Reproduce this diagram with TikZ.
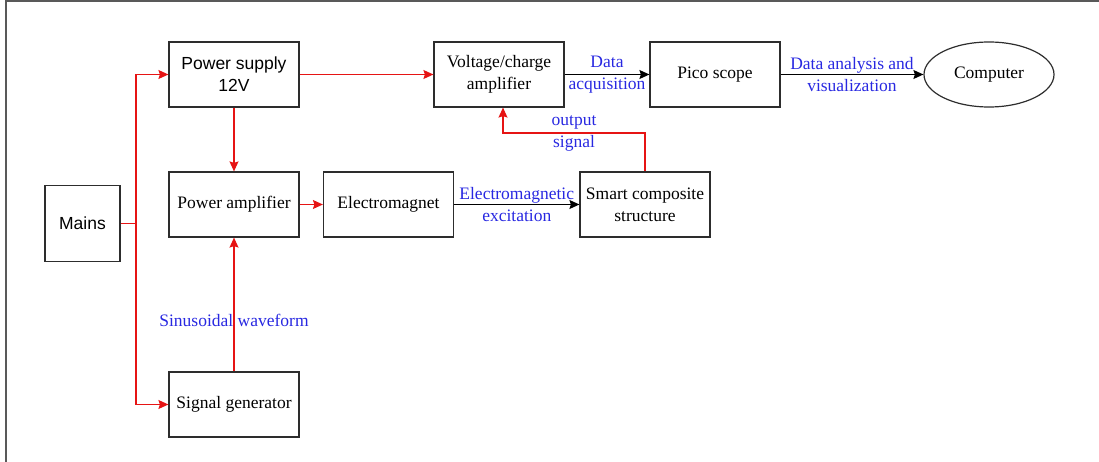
\documentclass[tikz,border=0pt]{standalone}
\usepackage{fontspec}
\setmainfont{Liberation Serif}
\newfontfamily\arialfont{Liberation Sans}
\usetikzlibrary{arrows.meta,shapes.geometric}
\definecolor{lblue}{RGB}{40,40,225}
\definecolor{lred}{RGB}{230,20,20}
\definecolor{boxgray}{RGB}{45,45,45}
\begin{document}
\begin{tikzpicture}[x=1pt,y=-1pt,
  font=\fontsize{17.5}{22}\selectfont,
  blk/.style={draw=boxgray,line width=1.2pt,minimum width=130pt,minimum height=65pt,inner sep=1pt,align=center},
  tip/.tip={Stealth[length=10pt,width=9pt,inset=1.5pt]},
  rarr/.style={draw=lred,line width=1.2pt,-tip},
  rline/.style={draw=lred,line width=1.2pt},
  barr/.style={draw=black,line width=1.2pt,-tip},
  lbl/.style={text=lblue,align=center,inner sep=0pt}]
\useasboundingbox (0,0) rectangle (1099,462);
\draw[line width=1.5pt,draw=black!65] (6,462) -- (6,1) -- (1099,1);

\node[blk,minimum width=75pt,minimum height=76pt,font=\arialfont\fontsize{17.5}{22}\selectfont] (mains) at (82.5,223.5) {Mains};
\node[blk,font=\arialfont\fontsize{17.5}{22}\selectfont] (ps) at (234,74.5) {Power supply\\12V};
\node[blk] (pa) at (234,204.5) {Power amplifier};
\node[blk] (sg) at (234,404.5) {Signal generator};
\node[blk] (vc) at (499,74.5) {Voltage/charge\\amplifier};
\node[blk] (em) at (388.5,204.5) {Electromagnet};
\node[blk] (sc) at (645,204.5) {Smart composite\\structure};
\node[blk] (pico) at (715,74.5) {Pico scope};
\node[draw=boxgray,line width=1.2pt,ellipse,minimum width=130pt,minimum height=65pt,inner sep=0pt] (comp) at (989,74.5) {Computer};

\coordinate (jx) at (136,0);
\coordinate (fb) at (0,133);

\draw[rline] (mains.east) -- (mains.east -| jx);
\draw[rline] (ps.west -| jx) -- (sg.west -| jx);
\draw[rarr] (ps.west -| jx) -- (ps.west);
\draw[rarr] (sg.west -| jx) -- (sg.west);
\draw[rarr] (ps.south) -- (pa.north);
\draw[rarr] (ps.east) -- (vc.west);
\draw[rarr] (pa.east) -- (em.west);
\draw[rarr] (sg.north) -- node[lbl,pos=0.378]{Sinusoidal waveform} (pa.south);
\draw[barr] (em.east) -- node[lbl]{Electromagnetic\\excitation} (sc.west);
\draw[barr] (vc.east) -- node[lbl]{Data\\acquisition} (pico.west);
\draw[barr] (pico.east) -- node[lbl]{Data analysis and\\visualization} (comp.west);
\draw[rarr] (sc.north) -- (sc.north |- fb) -| node[lbl,pos=0.25]{output\\signal} ([xshift=4pt]vc.south);
\end{tikzpicture}
\end{document}
